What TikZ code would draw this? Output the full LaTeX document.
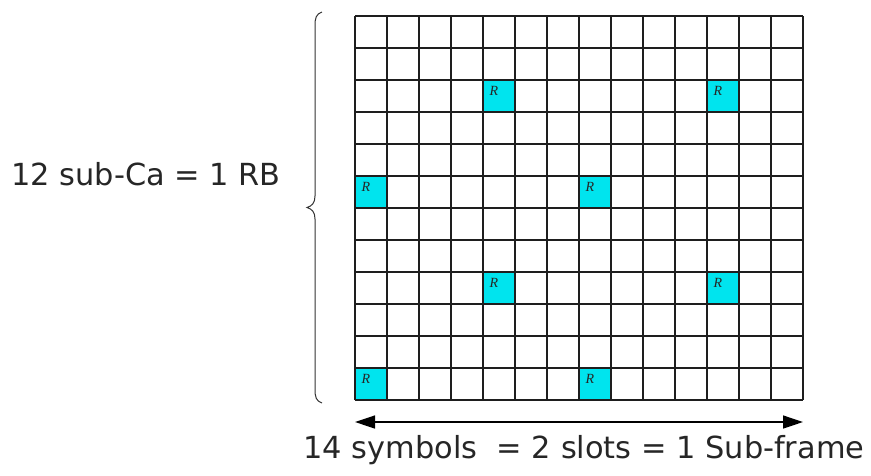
\documentclass[tikz,border=0pt]{standalone}
\usepackage{fontspec}
\setmainfont{DejaVu Sans}
\newfontfamily\rfont{Liberation Serif}
\usetikzlibrary{arrows.meta}
\definecolor{rcyan}{RGB}{0,228,238}
\definecolor{gridcol}{RGB}{30,30,30}
\begin{document}
\begin{tikzpicture}[x=1pt,y=-1pt,
  rcell/.style={rectangle,fill=rcyan,draw=none,minimum size=32pt,inner sep=0pt},
  rlab/.style={inner sep=0pt,font=\rfont\itshape\fontsize{14}{14}\selectfont,text=black!85},
  bigtext/.style={inner sep=0pt,anchor=base,font=\fontsize{30.4}{36}\selectfont,text=black!85},
  gridline/.style={draw=gridcol,line width=1.7pt},
  bracestyle/.style={draw=black!80,line width=1pt},
  dimarrow/.style={draw=black,line width=1.3pt,{Triangle[length=20pt,width=13pt]}-{Triangle[length=20pt,width=13pt]}}]
\useasboundingbox (0,0) rectangle (871,475);
% reference signal cells
\foreach \c/\r in {4/2,11/2,0/5,7/5,4/8,11/8,0/11,7/11}{
  \node[rcell] (r\c-\r) at ({355+32*\c+16},{16+32*\r+16}) {};
  \node[rlab] (l\c-\r) at ({355+32*\c+11},{16+32*\r+11}) {R};
}
% grid
\begin{scope}[shift={(355,16)}]
  \draw[gridline,step=32pt] (0,0) grid (448,384);
\end{scope}
% brace
\draw[bracestyle] (322,12) .. controls (316,14) and (315,18) .. (315,26)
  -- (315,196) .. controls (315,203) and (312,206) .. (307,207.5)
  .. controls (312,209) and (315,212) .. (315,219)
  -- (315,389) .. controls (315,397) and (316,401) .. (322,403);
% arrow
\coordinate (aL) at (355,422);
\coordinate (aR) at (803,422);
\draw[dimarrow] (aL) -- (aR);
% texts
\node[bigtext] (rb) at (146,185) {12 sub-Ca = 1 RB};
\node[bigtext] (sf) at (584,458) {14 symbols~ = 2 slots = 1 Sub-frame};
\end{tikzpicture}
\end{document}
